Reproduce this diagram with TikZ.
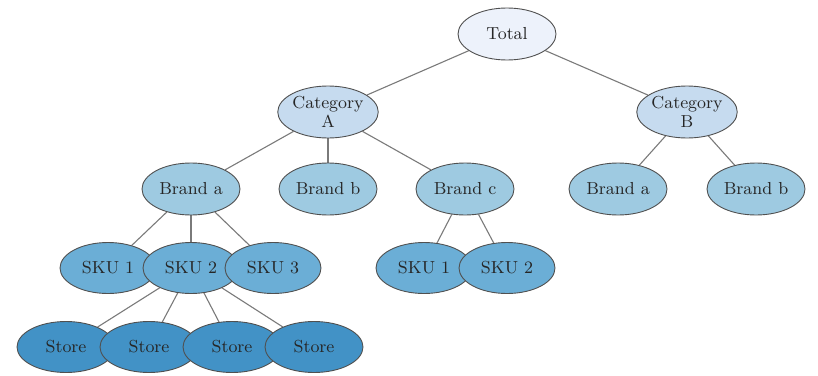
\documentclass[tikz,border=0pt]{standalone}
\usetikzlibrary{shapes.geometric,backgrounds}
\definecolor{cTotal}{HTML}{EDF2FB}
\definecolor{cCat}{HTML}{C6DBEF}
\definecolor{cBrand}{HTML}{9ECAE1}
\definecolor{cSku}{HTML}{6BAED6}
\definecolor{cStore}{HTML}{4292C6}
\definecolor{cEdge}{HTML}{7A7A7A}
\definecolor{cBorder}{HTML}{505050}
\tikzset{
  tnode/.style={ellipse, draw=cBorder, line width=0.45pt, minimum width=49pt, minimum height=26pt,
    inner sep=0pt, align=center, font=\fontsize{8.7}{9.5}\selectfont, text=black!85},
  totalnode/.style={tnode, fill=cTotal},
  catnode/.style={tnode, fill=cCat},
  brandnode/.style={tnode, fill=cBrand},
  skunode/.style={tnode, fill=cSku, minimum width=48pt, minimum height=25.5pt},
  storenode/.style={tnode, fill=cStore, minimum width=49pt, minimum height=25.5pt},
  edge/.style={draw=cEdge, line width=0.55pt}
}
\begin{document}
\begin{tikzpicture}[x=0.5pt,y=-0.5pt]
\useasboundingbox (0,0) rectangle (818,375);
\node[totalnode] (total) at (507,34) {Total};
\node[catnode] (catA) at (328,112) {Category\\A};
\node[catnode] (catB) at (687,112) {Category\\B};
\node[brandnode] (Aa) at (191,189) {Brand a};
\node[brandnode] (Ab) at (328,189) {Brand b};
\node[brandnode] (Ac) at (465,189) {Brand c};
\node[brandnode] (Ba) at (618,189) {Brand a};
\node[brandnode] (Bb) at (756,189) {Brand b};
\node[skunode] (s1) at (108,268) {SKU 1};
\node[skunode] (s2) at (191,268) {SKU 2};
\node[skunode] (s3) at (273,268) {SKU 3};
\node[skunode] (c1) at (424,268) {SKU 1};
\node[skunode] (c2) at (507,268) {SKU 2};
\node[storenode] (st1) at (66,347) {Store};
\node[storenode] (st2) at (149,347) {Store};
\node[storenode] (st3) at (232,347) {Store};
\node[storenode] (st4) at (314,347) {Store};
\begin{scope}[on background layer]
\draw[edge] (total) -- (catA);
\draw[edge] (total) -- (catB);
\draw[edge] (catA) -- (Aa);
\draw[edge] (catA) -- (Ab);
\draw[edge] (catA) -- (Ac);
\draw[edge] (catB) -- (Ba);
\draw[edge] (catB) -- (Bb);
\draw[edge] (Aa) -- (s1);
\draw[edge] (Aa) -- (s2);
\draw[edge] (Aa) -- (s3);
\draw[edge] (Ac) -- (c1);
\draw[edge] (Ac) -- (c2);
\draw[edge] (s2) -- (st1);
\draw[edge] (s2) -- (st2);
\draw[edge] (s2) -- (st3);
\draw[edge] (s2) -- (st4);
\end{scope}
\end{tikzpicture}
\end{document}
